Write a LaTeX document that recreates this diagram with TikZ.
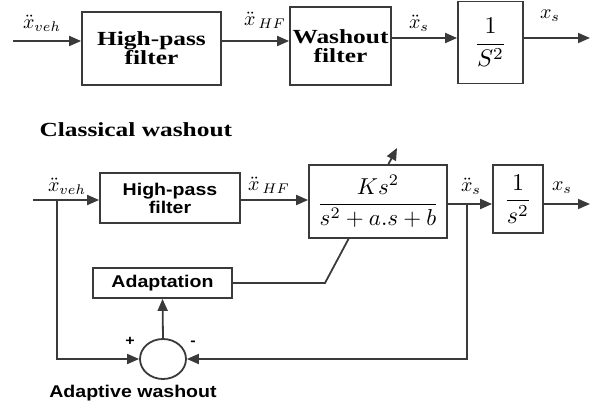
\documentclass[tikz,border=0pt]{standalone}
\usepackage{amsmath}
\usepackage{graphicx}
\usepackage{fontspec}
\setmainfont{Liberation Serif}
\newfontfamily\tser[FakeStretch=1.27]{Liberation Serif}
\newfontfamily\bsans[FakeStretch=1.15]{Liberation Sans}
\usetikzlibrary{arrows.meta,shapes.geometric}
\definecolor{ln}{HTML}{3A3A3A}
\newcommand\mylab[2]{\scalebox{#1}{\fontsize{10}{12}\selectfont$#2$}}
\tikzset{
  blk/.style={draw=ln, line width=1.8pt, fill=white, inner sep=0pt, align=center},
  sig/.style={draw=ln, line width=1.8pt},
  arr/.style={sig, -{Triangle[length=12pt,width=10pt]}},
  topfont/.style={font=\tser\bfseries\fontsize{20}{19}\selectfont},
  botfont/.style={font=\bsans\bfseries\fontsize{17}{18}\selectfont},
  lab/.style={inner sep=0pt},
}
\begin{document}
\begin{tikzpicture}[x=1pt,y=-1pt]
\useasboundingbox (0,0) rectangle (597,409);
% ---------- top: classical washout ----------
\node[blk, topfont, minimum width=139pt, minimum height=73pt] (hp1) at (151.5,48.5) {High-pass\\filter};
\node[blk, topfont, minimum width=101pt, minimum height=78pt] (wash) at (340.5,46) {Washout\\filter};
\node[blk, minimum width=65pt, minimum height=82pt] (int1) at (490.5,42.5) {\mylab{2.4}{\dfrac{1}{S^{2}}}};
\coordinate (in1) at (13,41);
\coordinate (out1) at (590,38);
\draw[arr] (in1) -- (in1 -| hp1.west);
\draw[arr] (hp1.east |- in1) -- (wash.west |- in1);
\draw[arr] (wash.east |- out1) -- (int1.west |- out1);
\draw[arr] (int1.east |- out1) -- (out1);
\node[lab] (l1) at (42,23) {\mylab{2.0}{\ddot{x}_{veh}}};
\node[lab] (l2) at (265,20) {\mylab{2.0}{\ddot{x}_{\,HF}}};
\node[lab] (l3) at (419,23) {\mylab{2.0}{\ddot{x}_{s}}};
\node[lab] (l4) at (550,16) {\mylab{2.0}{x_{s}}};
\node[topfont, anchor=west] (t1) at (36,130) {Classical washout};
% ---------- bottom: adaptive washout ----------
\node[blk, botfont, minimum width=140pt, minimum height=50pt] (hp2) at (170,198) {High-pass\\filter};
\node[blk, minimum width=138pt, minimum height=73pt] (kbox) at (378,201.5) {\mylab{2.3}{\dfrac{Ks^{2}}{s^{2}+a.s+b}}};
\node[blk, minimum width=50pt, minimum height=68pt] (int2) at (518,199) {\mylab{2.4}{\dfrac{1}{s^{2}}}};
\node[blk, botfont, minimum width=139pt, minimum height=30pt] (adapt) at (162.5,283) {Adaptation};
\node[draw=ln, line width=1.8pt, ellipse, minimum width=46pt, minimum height=40pt, inner sep=0pt] (sum) at (163,359) {};
\coordinate (in2) at (33,200);
\coordinate (b1) at (57,200);
\coordinate (b2) at (467,204);
\coordinate (out2) at (590,204);
\coordinate (g1) at (325,283);
\coordinate (g3) at (349,238);
\coordinate (g4) at (388,165);
\coordinate (g2) at (397,148);
\draw[arr] (in2) -- (in2 -| hp2.west);
\draw[arr] (hp2.east |- in2) -- (kbox.west |- in2);
\draw[arr] (kbox.east |- b2) -- (int2.west |- b2);
\draw[arr] (int2.east |- out2) -- (out2);
\draw[arr] (b1) |- (sum.west);
\draw[arr] (b2) |- (sum.east);
\draw[arr] (sum.north) -- (adapt.south);
\draw[sig] (adapt.east) -- (g1) -- (g3);
\draw[arr] (g4) -- (g2);
\node[lab] (l5) at (67,186) {\mylab{2.0}{\ddot{x}_{veh}}};
\node[lab] (l6) at (269,185) {\mylab{2.0}{\ddot{x}_{\,HF}}};
\node[lab] (l7) at (471,186) {\mylab{2.0}{\ddot{x}_{s}}};
\node[lab] (l8) at (562,188) {\mylab{2.0}{x_{s}}};
\node[font=\bsans\bfseries\fontsize{14}{14}\selectfont] (pl) at (130,341) {+};
\node[font=\bsans\bfseries\fontsize{14}{14}\selectfont] (mi) at (193,343) {-};
\node[botfont] (t2) at (133,393) {Adaptive washout};
\end{tikzpicture}
\end{document}
